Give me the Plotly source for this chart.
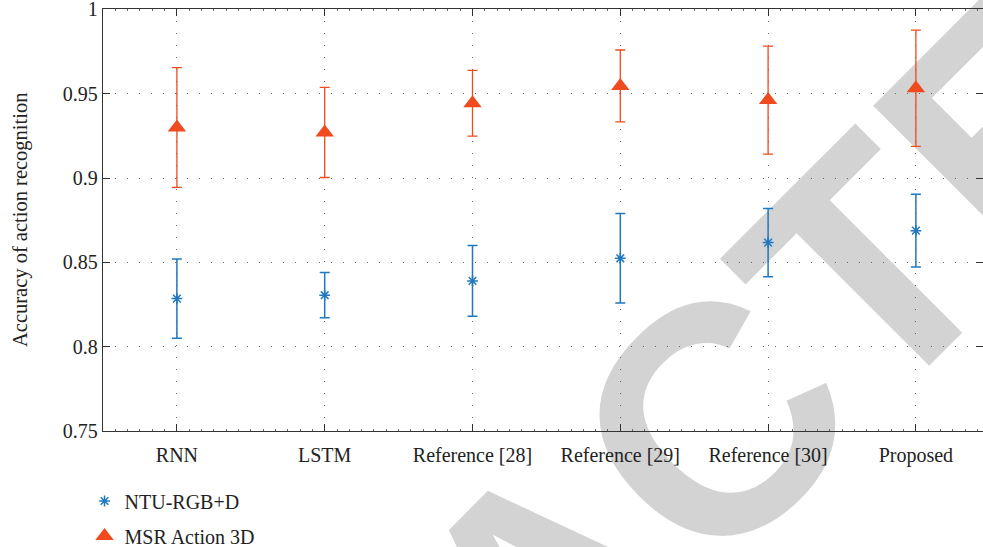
import base64
import plotly.graph_objects as go

categories = ["RNN", "LSTM", "Reference [28]", "Reference [29]", "Reference [30]", "Proposed"]
ntu_mean = [0.8285, 0.8305, 0.839, 0.8524, 0.8617, 0.8688]
ntu_err = [0.0235, 0.0134, 0.021, 0.0265, 0.0202, 0.0215]
msr_mean = [0.930, 0.927, 0.9443, 0.9546, 0.9462, 0.9532]
msr_err = [0.0355, 0.0267, 0.0195, 0.0213, 0.032, 0.0345]
y_ticks = [0.75, 0.8, 0.85, 0.9, 0.95, 1]
y_labels = ["0.75", "0.8", "0.85", "0.9", "0.95", "1"]
y_title = "Accuracy of action recognition"
watermark_text = "RETRACTED"

x_pos = list(range(1, len(categories) + 1))
BLUE = "#1f78c0"
RED = "#f04b1e"
FONT = "Liberation Serif"
TXT = "#222222"
W, H = 983, 547
ML, MR, MT, MB = 103, 0, 9, 116

fig = go.Figure()
fig.add_trace(go.Scatter(
    x=x_pos, y=ntu_mean, mode="markers", name="NTU-RGB+D",
    marker=dict(symbol="asterisk-open", size=9, color=BLUE, line=dict(color=BLUE, width=1.5)),
    error_y=dict(type="data", array=ntu_err, visible=True, color=BLUE, thickness=1.5, width=5),
    legend="legend",
))
fig.add_trace(go.Scatter(
    x=x_pos, y=msr_mean, mode="markers", name="MSR Action 3D",
    marker=dict(symbol="triangle-up", size=16, color=RED),
    error_y=dict(type="data", array=msr_err, visible=True, color=RED, thickness=1.3, width=5),
    legend="legend2",
))

axis_common = dict(
    showline=True, linecolor="#333333", linewidth=1.3, mirror="ticks",
    ticks="inside", ticklen=7, tickcolor="#333333", tickwidth=1.3,
    showgrid=True, gridcolor="#666666", griddash="1px,11px", gridwidth=1,
    zeroline=False,
    tickfont=dict(family=FONT, size=20, color=TXT),
)

fig.update_xaxes(
    **axis_common,
    tickvals=x_pos, ticktext=categories,
    range=[0.5, 0.5 + (W - ML - MR) / 147.8],
    ticklabelstandoff=6,
    minor=dict(ticks="inside", ticklen=2, tickcolor="#666666", dtick=1 / 12, showgrid=False),
)
fig.update_yaxes(
    **axis_common,
    tickvals=y_ticks, ticktext=y_labels,
    range=[0.75, 1.0002],
    ticklabeloverflow="allow",
)

fig.add_annotation(
    text=y_title, textangle=-90, xref="paper", yref="paper",
    x=0, y=0.5, xanchor="center", yanchor="middle", xshift=-83, showarrow=False,
    font=dict(family=FONT, size=20.5, color=TXT),
)

# light grey diagonal watermark behind the data
svg = (
    f'<svg xmlns="http://www.w3.org/2000/svg" width="{W}" height="{H}" viewBox="0 0 {W} {H}">'
    f'<text x="-82" y="1377" transform="rotate(-45 -82 1377)" '
    f'font-family="Liberation Sans, Arial, sans-serif" font-weight="bold" font-size="325" '
    f'fill="#d3d3d3">{watermark_text}</text></svg>'
)
src = "data:image/svg+xml;base64," + base64.b64encode(svg.encode()).decode()
pw, ph = W - ML - MR, H - MT - MB
fig.add_layout_image(
    source=src, xref="paper", yref="paper",
    x=-ML / pw, y=1 + MT / ph, sizex=W / pw, sizey=H / ph,
    xanchor="left", yanchor="top", sizing="stretch", layer="below",
)

legend_common = dict(
    xref="container", yref="container", xanchor="left", yanchor="middle",
    bgcolor="rgba(0,0,0,0)", font=dict(family=FONT, size=20, color=TXT),
    itemwidth=30,
)
fig.update_layout(
    width=W, height=H,
    margin=dict(l=ML, r=MR, t=MT, b=MB, autoexpand=False),
    plot_bgcolor="rgba(0,0,0,0)", paper_bgcolor="white",
    legend=dict(**legend_common, x=0.086, y=1 - 501 / H),
    legend2=dict(**legend_common, x=0.086, y=1 - 536 / H),
    showlegend=True,
)

fig.write_html(
    "out.html",
    config={"displayModeBar": False},
    post_script="document.body.style.margin='0px';document.body.style.overflow='hidden';",
)
